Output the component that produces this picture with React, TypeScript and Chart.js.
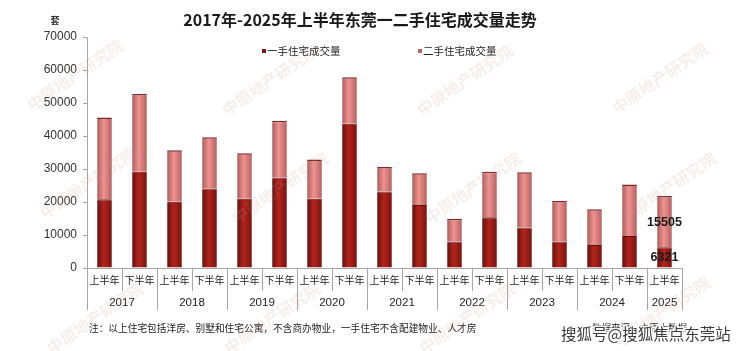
import React, { useEffect, useRef } from 'react';
import { Chart, registerables } from 'chart.js';

Chart.register(...registerables);

// ---- data ----
const halfLabels = [
  '上半年', '下半年', '上半年', '下半年', '上半年', '下半年', '上半年', '下半年',
  '上半年', '下半年', '上半年', '下半年', '上半年', '下半年', '上半年', '下半年', '上半年',
];
const years = ['2017', '2018', '2019', '2020', '2021', '2022', '2023', '2024', '2025'];
const yearSpans = [2, 2, 2, 2, 2, 2, 2, 2, 1];
const firstHand = [20800, 29200, 20100, 24100, 21000, 27400, 21000, 43700, 23200, 19100, 8000, 15400, 12300, 8000, 7000, 9700, 6321];
const secondHand = [24800, 23500, 15600, 15500, 13800, 17200, 11900, 14100, 7400, 9600, 6900, 13800, 16700, 12300, 10800, 15600, 15505];
const seriesNames = ['一手住宅成交量', '二手住宅成交量'];
const yMin = 0;
const yMax = 70000;
const yStep = 10000;
const labeledIndex = 16;

const titleText = '2017年-2025年上半年东莞一二手住宅成交量走势';
const unitText = '套';
const noteText = '注：以上住宅包括洋房、别墅和住宅公寓，不含商办物业，一手住宅不含配建物业、人才房';
const sourceText = '数据来源：中原大数据';
const brandText = '搜狐号@搜狐焦点东莞站';
const stampText = '中原地产研究院';

const CJK = '"Noto Sans CJK SC", "Noto Sans", sans-serif';
const LAT = '"Liberation Sans", Arial, sans-serif';

const darkStops = ['#621210', '#b5231c', '#721511'];
const lightStops = ['#a85e5d', '#f29290', '#b06362'];
const darkMarker = '#7d1712';
const lightMarker = '#b26462';
const axisColor = '#a6a6a6';

// faint diagonal stamp positions (layout only)
const stampSpots = [
  [75, 75], [270, 80], [465, 80], [660, 78],
  [88, 183], [280, 188], [473, 188], [668, 188],
  [95, 318], [272, 318], [467, 318], [662, 312],
];

function shade(ctx: any, stops: string[]) {
  const chart = ctx.chart;
  const xs = chart.scales && chart.scales.x;
  if (!xs || ctx.type !== 'data') return stops[1];
  const px = xs.getPixelForValue(ctx.dataIndex);
  const step = xs.getPixelForValue(1) - xs.getPixelForValue(0);
  if (!isFinite(px) || !isFinite(step) || step <= 0) return stops[1];
  const w = step * 0.42;
  const g = chart.ctx.createLinearGradient(px - w / 2, 0, px + w / 2, 0);
  g.addColorStop(0, stops[0]);
  g.addColorStop(0.45, stops[1]);
  g.addColorStop(1, stops[2]);
  return g;
}

const decorPlugin = {
  id: 'decor',
  afterDraw(chart: any) {
    const ctx = chart.ctx as CanvasRenderingContext2D;
    const xs = chart.scales.x;
    const area = chart.chartArea;
    const bottom = area.bottom;
    const step = xs.getPixelForValue(1) - xs.getPixelForValue(0);
    ctx.save();

    // category / year dividers
    const yearEdges = new Set<number>();
    let acc = 0;
    yearEdges.add(0);
    yearSpans.forEach((s) => { acc += s; yearEdges.add(acc); });
    ctx.strokeStyle = axisColor;
    ctx.lineWidth = 1;
    for (let i = 0; i <= halfLabels.length; i++) {
      const x = Math.round(xs.getPixelForValue(i) - step / 2) + 0.5;
      const yEnd = yearEdges.has(i) ? bottom + 42 : bottom + 23;
      ctx.beginPath();
      ctx.moveTo(x, bottom);
      ctx.lineTo(x, yEnd);
      ctx.stroke();
    }

    // year labels
    ctx.fillStyle = '#222';
    ctx.font = `11.5px ${LAT}`;
    ctx.textAlign = 'center';
    ctx.textBaseline = 'middle';
    let start = 0;
    years.forEach((yr, k) => {
      const span = yearSpans[k];
      const x0 = xs.getPixelForValue(start) - step / 2;
      const x1 = xs.getPixelForValue(start + span - 1) + step / 2;
      ctx.fillText(yr, (x0 + x1) / 2, bottom + 35);
      start += span;
    });

    // data labels for last bar
    ctx.font = `bold 12.5px ${LAT}`;
    ctx.fillStyle = '#1a1a1a';
    [0, 1].forEach((di) => {
      const el = chart.getDatasetMeta(di).data[labeledIndex];
      if (!el) return;
      const v = di === 0 ? firstHand[labeledIndex] : secondHand[labeledIndex];
      ctx.fillText(String(v), el.x, (el.y + el.base) / 2 + 0.5);
    });

    // title
    ctx.fillStyle = '#1a1a1a';
    ctx.font = `bold 16px ${CJK}`;
    ctx.fillText(titleText, 360, 20);

    // unit
    ctx.font = `bold 9px ${CJK}`;
    ctx.fillStyle = '#333';
    ctx.fillText(unitText, 55, 21);

    // legend
    ctx.textAlign = 'left';
    ctx.font = `10.5px ${CJK}`;
    const legendPos = [262, 418];
    const markers = [darkMarker, lightMarker];
    seriesNames.forEach((n, k) => {
      ctx.fillStyle = markers[k];
      ctx.fillRect(legendPos[k], 49, 4, 4);
      ctx.fillStyle = '#222';
      ctx.fillText(n, legendPos[k] + 5, 51.5);
    });

    // footnote & source
    ctx.font = `9.7px ${CJK}`;
    ctx.fillStyle = '#222';
    ctx.fillText(noteText, 89, 328);
    ctx.font = `9.5px ${CJK}`;
    ctx.fillText(sourceText, 592, 327);

    // faint diagonal stamps
    ctx.font = `bold 16px ${CJK}`;
    ctx.textAlign = 'center';
    ctx.fillStyle = 'rgba(200,150,150,0.16)';
    stampSpots.forEach(([sx, sy]) => {
      ctx.save();
      ctx.translate(sx, sy);
      ctx.rotate(-0.6);
      ctx.fillText(stampText, 0, 0);
      ctx.restore();
    });

    // brand watermark
    ctx.textAlign = 'left';
    ctx.font = `15.5px ${CJK}`;
    ctx.lineWidth = 3;
    ctx.strokeStyle = 'rgba(255,255,255,0.9)';
    ctx.strokeText(brandText, 561, 334);
    ctx.fillStyle = '#3c3c3c';
    ctx.fillText(brandText, 561, 334);

    ctx.restore();
  },
};

export default function App() {
  const ref = useRef<HTMLCanvasElement>(null);
  useEffect(() => {
    document.body.style.margin = '0';
    const canvas = ref.current;
    if (!canvas) return;
    const chart = new Chart(canvas, {
      type: 'bar',
      data: {
        labels: halfLabels,
        datasets: [
          {
            label: seriesNames[0],
            data: firstHand,
            backgroundColor: (c: any) => shade(c, darkStops),
            borderColor: '#5e100c',
            borderWidth: { top: 1, left: 0, right: 0, bottom: 0 },
            borderSkipped: false,
            barPercentage: 0.42,
            categoryPercentage: 1,
          },
          {
            label: seriesNames[1],
            data: secondHand,
            backgroundColor: (c: any) => shade(c, lightStops),
            borderColor: '#7a2a28',
            borderWidth: { top: 1.5, left: 0, right: 0, bottom: 0 },
            borderSkipped: false,
            barPercentage: 0.42,
            categoryPercentage: 1,
          },
        ],
      },
      options: {
        responsive: false,
        animation: false,
        devicePixelRatio: 1,
        layout: { padding: { top: 37, left: 0, right: 58, bottom: 63 } },
        plugins: {
          legend: { display: false },
          title: { display: false },
          tooltip: { enabled: false },
        },
        scales: {
          x: {
            stacked: true,
            grid: { display: false, drawTicks: false },
            border: { display: true, color: axisColor },
            ticks: {
              color: '#222',
              font: { family: CJK, size: 10 },
              padding: 6,
              maxRotation: 0,
              autoSkip: false,
            },
            afterFit: (s: any) => { s.height = 20; },
          },
          y: {
            stacked: true,
            min: yMin,
            max: yMax,
            grid: { drawOnChartArea: false, drawTicks: true, tickLength: 4, color: axisColor },
            border: { display: true, color: axisColor },
            ticks: {
              stepSize: yStep,
              color: '#333',
              font: { family: LAT, size: 12 },
              padding: 6,
              callback: (v: any) => String(v),
            },
            afterFit: (s: any) => { s.width = 87; },
          },
        },
      },
      plugins: [decorPlugin],
    });
    return () => chart.destroy();
  }, []);
  return <canvas ref={ref} width={740} height={351} style={{ display: 'block' }} />;
}
